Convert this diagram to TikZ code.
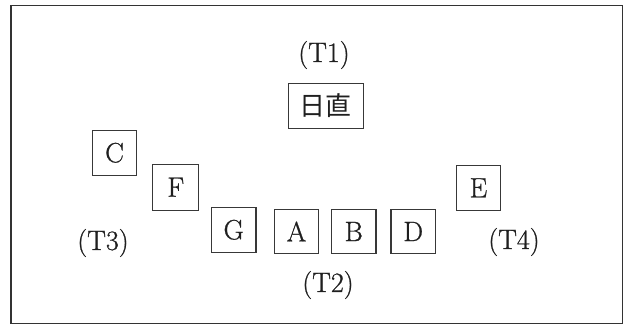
\documentclass[tikz,border=0pt]{standalone}
\usepackage{fontspec}
\newfontfamily\jpfont{Noto Sans CJK JP}
\newfontfamily\seatfont{Latin Modern Roman}[FakeBold=0.8]
\begin{document}
\begin{tikzpicture}[x=1pt,y=-1pt,
  seat/.style={draw=black!78, line width=1.1pt, minimum width=44.5pt, minimum height=44.5pt,
    inner sep=0pt, text=black!88, font=\seatfont\fontsize{28}{28}\selectfont},
  tag/.style={inner sep=0pt, text=black!88, font=\seatfont\fontsize{28}{28}\selectfont}]
  \useasboundingbox (0,0) rectangle (626,325);
  % outer frame
  \draw[draw=black!80, line width=1.8pt] (11,5.5) rectangle (622.5,323.5);
  % teacher's desk
  \node[seat, minimum width=75pt, font=\jpfont\fontsize{26}{26}\selectfont] (duty) at (325.8,105.8) {日直};
  % seats
  \node[seat] (C) at (114.5,152.8) {C};
  \node[seat, minimum width=46pt, minimum height=46pt] (F) at (175.8,187.2) {F};
  \node[seat] (G) at (233.7,229.8) {G};
  \node[seat] (A) at (296.5,231.5) {A};
  \node[seat] (B) at (353.7,231.5) {B};
  \node[seat] (D) at (413.2,231.5) {D};
  \node[seat, minimum height=45.5pt] (E) at (478.4,187.8) {E};
  % position labels
  \node[tag] (T1) at (324,55) {(T1)};
  \node[tag] (T2) at (328,285) {(T2)};
  \node[tag] (T3) at (103,243) {(T3)};
  \node[tag] (T4) at (514,242) {(T4)};
\end{tikzpicture}
\end{document}
